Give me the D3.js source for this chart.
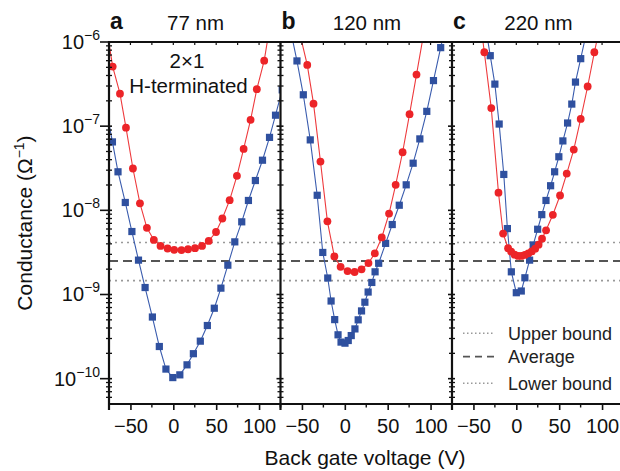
<!DOCTYPE html>
<html>
<head>
<meta charset="utf-8">
<script src="https://cdn.jsdelivr.net/npm/d3@7"></script>
<style>
  body { margin: 0; background: #fff; }
  svg { display: block; font-family: "Liberation Sans", Arial, sans-serif; }
</style>
</head>
<body>
<svg id="chart" width="620" height="471"></svg>
<script>
// panel titles
const panelLetters = ['a', 'b', 'c'];
const categories = ['77 nm', '120 nm', '220 nm'];

// back gate voltage (V) and conductance (1/Ohm), squares = blue, circles = red
const aSqV = [-80, -71, -64.5, -56, -48.3, -40.6, -32.9, -24.4, -16.3, -8.6, -0.6, 7.6, 16, 23.4, 31.5, 39.7, 47.8, 55.5, 63.6, 71.7, 79.8, 87.6, 95.7, 104, 112.2, 119.2, 127];
const aSqG = [2.0e-7, 6.5e-8, 2.87e-8, 1.24e-8, 5.6e-9, 2.56e-9, 1.21e-9, 5.4e-10, 2.41e-10, 1.30e-10, 1.03e-10, 1.11e-10, 1.46e-10, 1.98e-10, 2.79e-10, 4.28e-10, 6.87e-10, 1.19e-9, 2.23e-9, 4.22e-9, 7.3e-9, 1.31e-8, 2.26e-8, 3.94e-8, 7.36e-8, 1.35e-7, 2.7e-7];
const aCiV = [-78, -70.7, -62.2, -55.2, -47.1, -38.9, -30.8, -22.7, -14.9, -6.7, 1, 9.5, 17.2, 25.3, 33.5, 41.3, 49.8, 57.2, 65.7, 74.2, 82, 90.1, 97.4, 106, 114];
const aCiG = [1.5e-6, 5.1e-7, 2.43e-7, 9.6e-8, 3.14e-8, 1.21e-8, 6.2e-9, 4.45e-9, 3.78e-9, 3.52e-9, 3.39e-9, 3.37e-9, 3.45e-9, 3.55e-9, 3.78e-9, 4.33e-9, 5.53e-9, 8.0e-9, 1.32e-8, 2.57e-8, 5.37e-8, 1.19e-7, 2.75e-7, 6.0e-7, 1.9e-6];

const bSqV = [-64, -55.8, -48.4, -40.3, -32.2, -25.7, -19.9, -16, -11.8, -7.9, -4.4, 0.2, 4, 7.5, 11.8, 15.6, 19.5, 23.4, 27.2, 31.5, 35.3, 39.5, 47.6, 55.3, 63.5, 71.6, 79.7, 87.5, 95.6, 103.4, 111.8, 120];
const bSqG = [1.5e-6, 5.96e-7, 2.36e-7, 6.87e-8, 1.51e-8, 3.16e-9, 1.57e-9, 8.37e-10, 5.03e-10, 3.32e-10, 2.72e-10, 2.64e-10, 2.84e-10, 3.25e-10, 3.9e-10, 5.0e-10, 6.38e-10, 8.1e-10, 1.07e-9, 1.39e-9, 1.86e-9, 2.35e-9, 4.05e-9, 6.78e-9, 1.15e-8, 2.01e-8, 3.63e-8, 7.06e-8, 1.5e-7, 3.48e-7, 8.57e-7, 2.07e-6];
const bCiV = [-52, -43.8, -36.5, -28.4, -20.3, -12.2, -4.9, 3.2, 11.4, 19.5, 27.6, 35, 43.1, 51.6, 59.3, 67.4, 75.5, 83.6, 92];
const bCiG = [1.2e-6, 5.34e-7, 1.85e-7, 3.8e-8, 7.4e-9, 2.83e-9, 2.13e-9, 1.90e-9, 1.85e-9, 1.99e-9, 2.36e-9, 3.08e-9, 4.76e-9, 9.14e-9, 2.01e-8, 4.9e-8, 1.39e-7, 4.1e-7, 1.26e-6];

const cSqV = [-34, -30.4, -25, -20, -14.6, -10.4, -5.8, 0, 5.8, 10, 15.5, 19.7, 24.9, 29.7, 34.6, 40, 44.7, 49.6, 54.3, 59.8, 64.7, 69, 75.1, 81];
const cSqG = [1.16e-6, 6.88e-7, 3.16e-7, 1.06e-7, 2.67e-8, 6.07e-9, 1.86e-9, 1.05e-9, 1.10e-9, 1.58e-9, 2.56e-9, 3.88e-9, 5.96e-9, 8.89e-9, 1.31e-8, 1.96e-8, 2.87e-8, 4.33e-8, 6.68e-8, 1.09e-7, 1.83e-7, 3.34e-7, 6.34e-7, 1.19e-6];
const cCiV = [-42, -37.3, -29.2, -20.8, -15.4, -9.6, -6, -2, 2, 6, 10, 14, 18, 22, 26, 30, 34.7, 42.6, 51, 58.8, 67, 75.1, 83.2, 91, 99];
const cCiG = [1.8e-6, 7.55e-7, 1.64e-7, 1.62e-8, 5.3e-9, 3.55e-9, 3.23e-9, 2.97e-9, 2.87e-9, 2.87e-9, 2.95e-9, 3.08e-9, 3.25e-9, 3.5e-9, 3.91e-9, 4.6e-9, 5.79e-9, 8.85e-9, 1.5e-8, 2.73e-8, 5.27e-8, 1.22e-7, 2.96e-7, 7.55e-7, 1.8e-6];

// horizontal reference levels
const boundNames = ['Upper bound', 'Average', 'Lower bound'];
const boundValues = [4.15e-9, 2.5e-9, 1.46e-9];

// ticks
const xTicks = [-50, 0, 50, 100];
const xMinor = [-75, -25, 25, 75, 125];
const yExponents = [-6, -7, -8, -9, -10];

const sqV = [aSqV, bSqV, cSqV], sqG = [aSqG, bSqG, cSqG];
const ciV = [aCiV, bCiV, cCiV], ciG = [aCiG, bCiG, cCiG];

const svg = d3.select('#chart');
const plotLeft = 109, plotTop = 42, plotBottom = 404, panelW = 171.5;
const blue = '#2f509f', red = '#ec2428';

const y = d3.scaleLog().domain([5e-11, 1e-6]).range([plotBottom, plotTop]);

const yMinor = [];
for (let e = -11; e <= -7; e++) {
  for (let k = 2; k <= 9; k++) {
    const v = k * Math.pow(10, e);
    if (v >= 5e-11 && v <= 1e-6) yMinor.push(v);
  }
}

const defs = svg.append('defs');

// reference lines behind everything, across all panels
boundValues.forEach((v, i) => {
  svg.append('line')
    .attr('x1', plotLeft).attr('x2', 620)
    .attr('y1', y(v)).attr('y2', y(v))
    .attr('stroke', i === 1 ? '#555' : '#999')
    .attr('stroke-width', i === 1 ? 1.8 : 1.6)
    .attr('stroke-dasharray', i === 1 ? '9,5' : '2,4');
});

categories.forEach((name, p) => {
  const x0 = plotLeft + p * panelW;
  const x = d3.scaleLinear().domain([-75, 125]).range([x0, x0 + panelW]);
  const g = svg.append('g');

  defs.append('clipPath').attr('id', 'clip' + p)
    .append('rect').attr('x', x0).attr('y', plotTop).attr('width', panelW).attr('height', plotBottom - plotTop);

  const plot = g.append('g').attr('clip-path', `url(#clip${p})`);

  const sq = sqV[p].map((v, i) => [v, sqG[p][i]]);
  const ci = ciV[p].map((v, i) => [v, ciG[p][i]]);
  const line = d3.line().x(d => x(d[0])).y(d => y(d[1]));

  plot.append('path').datum(sq)
    .attr('d', line).attr('fill', 'none').attr('stroke', '#3a5cae').attr('stroke-width', 1.1);
  plot.append('path').datum(ci)
    .attr('d', line).attr('fill', 'none').attr('stroke', '#ee3a3d').attr('stroke-width', 1.1);

  plot.selectAll('.sq').data(sq).enter().append('rect')
    .attr('x', d => x(d[0]) - 3.6).attr('y', d => y(d[1]) - 3.6)
    .attr('width', 7.2).attr('height', 7.2)
    .attr('fill', blue);
  plot.selectAll('.ci').data(ci).enter().append('circle')
    .attr('cx', d => x(d[0])).attr('cy', d => y(d[1]))
    .attr('r', 3.9).attr('fill', red);

  // bottom axis
  const xAxis = g.append('g').attr('transform', `translate(0,${plotBottom})`)
    .call(d3.axisBottom(x).tickValues(xTicks).tickSize(6).tickPadding(9)
      .tickFormat(d => d < 0 ? '−' + Math.abs(d) : d));
  xAxis.select('.domain').remove();
  xAxis.selectAll('.tick line').attr('stroke', '#111').attr('stroke-width', 1.6);
  xAxis.selectAll('text').attr('font-size', 20).attr('fill', '#111')
    .attr('font-family', '"Liberation Sans", Arial, sans-serif');

  xMinor.forEach(v => {
    g.append('line').attr('x1', x(v)).attr('x2', x(v))
      .attr('y1', plotBottom).attr('y2', plotBottom + 3.5)
      .attr('stroke', '#111').attr('stroke-width', 1.4);
  });
  // top ticks inside
  xTicks.concat(xMinor).forEach(v => {
    g.append('line').attr('x1', x(v)).attr('x2', x(v))
      .attr('y1', plotTop).attr('y2', plotTop + 3)
      .attr('stroke', '#111').attr('stroke-width', 1.2);
  });

  // left axis ticks
  const majorOut = p === 0 ? 9 : 4;
  yExponents.forEach(e => {
    const yy = y(Math.pow(10, e));
    g.append('line').attr('x1', x0 - majorOut).attr('x2', x0 + 3)
      .attr('y1', yy).attr('y2', yy).attr('stroke', '#111').attr('stroke-width', 1.6);
  });
  yMinor.forEach(v => {
    g.append('line').attr('x1', x0 - 3).attr('x2', x0 + 3)
      .attr('y1', y(v)).attr('y2', y(v)).attr('stroke', '#111').attr('stroke-width', 1.3);
  });

  // frame
  g.append('line').attr('x1', x0).attr('x2', x0).attr('y1', plotTop - 1).attr('y2', plotBottom + 6)
    .attr('stroke', '#111').attr('stroke-width', 2.2);
  g.append('line').attr('x1', x0).attr('x2', x0 + panelW).attr('y1', plotTop).attr('y2', plotTop)
    .attr('stroke', '#111').attr('stroke-width', 2.2);
  g.append('line').attr('x1', x0).attr('x2', x0 + panelW).attr('y1', plotBottom).attr('y2', plotBottom)
    .attr('stroke', '#111').attr('stroke-width', 2.2);

  // panel letter and title
  g.append('text').attr('x', x0 + 1).attr('y', 29)
    .attr('font-size', 23).attr('font-weight', 'bold').attr('fill', '#111')
    .text(panelLetters[p]);
  g.append('text').attr('x', x0 + 86.5).attr('y', 30)
    .attr('text-anchor', 'middle').attr('font-size', 20.5).attr('fill', '#111')
    .text(name);
});

// y tick labels
yExponents.forEach(e => {
  const t = svg.append('text').attr('x', 100).attr('y', y(Math.pow(10, e)) + 7)
    .attr('text-anchor', 'end').attr('font-size', 20).attr('fill', '#111');
  t.append('tspan').text('10');
  t.append('tspan').attr('dy', -9).attr('font-size', 14).text('−' + Math.abs(e));
});

// annotation in panel a
svg.append('text').attr('x', 187).attr('y', 68).attr('text-anchor', 'middle')
  .attr('font-size', 20.5).attr('fill', '#111').text('2×1');
svg.append('text').attr('x', 188.5).attr('y', 93).attr('text-anchor', 'middle')
  .attr('font-size', 20.5).attr('fill', '#111').text('H-terminated');

// axis titles
svg.append('text').attr('x', 365).attr('y', 465).attr('text-anchor', 'middle')
  .attr('font-size', 21).attr('fill', '#111').text('Back gate voltage (V)');

const yt = svg.append('text').attr('transform', 'translate(32,223) rotate(-90)')
  .attr('text-anchor', 'middle').attr('font-size', 21).attr('fill', '#111');
yt.append('tspan').text('Conductance (Ω');
yt.append('tspan').attr('dy', -8).attr('font-size', 14).text('−1');
yt.append('tspan').attr('dy', 8).text(')');

// legend
const legY = [333.3, 356.7, 383.3];
boundNames.forEach((n, i) => {
  svg.append('line').attr('x1', 463).attr('x2', 495)
    .attr('y1', legY[i]).attr('y2', legY[i])
    .attr('stroke', i === 1 ? '#555' : '#999')
    .attr('stroke-width', i === 1 ? 1.8 : 1.4)
    .attr('stroke-dasharray', i === 1 ? '7,5' : '1.5,2.5');
  svg.append('text').attr('x', 508).attr('y', legY[i] + 6.3)
    .attr('font-size', 18).attr('fill', '#222').text(n);
});
</script>
</body>
</html>
